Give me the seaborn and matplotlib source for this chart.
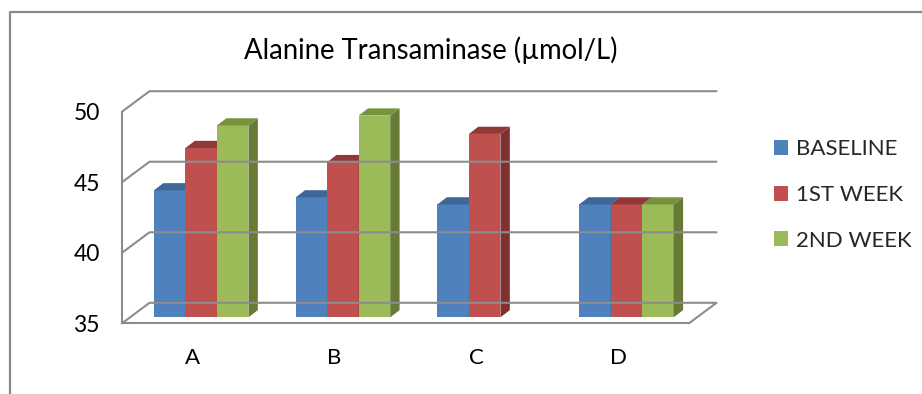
import numpy as np
import pandas as pd
import seaborn as sns
import matplotlib.pyplot as plt
from matplotlib.patches import Polygon, Patch
from matplotlib.lines import Line2D
from matplotlib.transforms import ScaledTranslation, IdentityTransform

# ---- data ----
groups = ["A", "B", "C", "D"]
series = ["BASELINE", "1ST WEEK", "2ND WEEK"]
baseline = [44.0, 43.5, 43.0, 43.0]
week1 = [47.0, 46.0, 48.0, 43.0]
week2 = [48.6, 49.3, np.nan, 43.0]
y_ticks = [35, 40, 45, 50]
title = "Alanine Transaminase (µmol/L)"

# ---- style ----
front_colors = ["#4F81BD", "#C0504D", "#9BBB59"]
side_colors = ["#385E8C", "#7E312F", "#677B37"]
top_colors = ["#3E6697", "#923937", "#77923D"]
grid_color = "#8C8C8C"
FONT = ["Lato", "DejaVu Sans"]

sns.set_style("white")
plt.rcParams["font.family"] = FONT

DPI = 100
W, H = 922, 394
fig = plt.figure(figsize=(W / DPI, H / DPI), dpi=DPI)

# axes = front plane of the 3-D box
x_left, x_right = 122, 689
y_bot, y_top = 323.3, 111.7
ax = fig.add_axes([x_left / W, (H - y_bot) / H,
                   (x_right - x_left) / W, (y_bot - y_top) / H])

df = pd.DataFrame({
    "group": groups * 3,
    "series": np.repeat(series, len(groups)),
    "value": baseline + week1 + week2,
})

sns.barplot(data=df, x="group", y="value", hue="series", hue_order=series,
            palette=front_colors, saturation=1, width=0.667, dodge=True,
            errorbar=None, legend=False, linewidth=0, ax=ax)

ymin, ymax = y_ticks[0], y_ticks[-1]
ax.set_ylim(ymin, ymax)
ax.set_xlim(-0.5, len(groups) - 0.5)

# depth offsets in pixels (display coords, y up)
BOX_D = np.array([27.5, 20.5])     # front plane -> back wall
BAR_OFF = np.array([8.3, 6.0])     # front plane -> bar front faces
BAR_D = np.array([9.4, 7.2])       # bar depth

fig.canvas.draw()
to_disp = ax.transData.transform
ident = IdentityTransform()

# ---- walls and gridlines ----
for v in y_ticks:
    f_l = to_disp((-0.5, v))
    f_r = to_disp((len(groups) - 0.5, v))
    b_l, b_r = f_l + BOX_D, f_r + BOX_D
    pts = [f_l, b_l, b_r]
    if v == ymin:
        pts = [f_l, b_l, b_r, f_r]
    xs, ys = zip(*pts)
    fig.add_artist(Line2D(xs, ys, color=grid_color, lw=1.5,
                          transform=ident, zorder=1))

# ---- 3-D bars ----
shift = ScaledTranslation(BAR_OFF[0] / DPI, BAR_OFF[1] / DPI, fig.dpi_scale_trans)
bars = []
for k, cont in enumerate(ax.containers):
    for p in cont:
        top = p.get_y() + p.get_height()
        if not np.isfinite(top):
            continue
        bars.append((p.get_x(), k, p, top))

bars.sort(key=lambda b: b[0])
for i, (x0, k, p, top) in enumerate(bars):
    w = p.get_width()
    p.set_y(ymin)
    p.set_height(top - ymin)
    p.set_transform(ax.transData + shift)
    p.set_clip_on(False)
    z = 3 + i * 0.1
    p.set_zorder(z)
    bl = to_disp((x0, top)) + BAR_OFF
    br = to_disp((x0 + w, top)) + BAR_OFF
    bb = to_disp((x0 + w, ymin)) + BAR_OFF
    side = Polygon([bb, br, br + BAR_D, bb + BAR_D], closed=True,
                   facecolor=side_colors[k], edgecolor="none",
                   transform=ident, clip_on=False, zorder=z + 0.01)
    lid = Polygon([bl, br, br + BAR_D, bl + BAR_D], closed=True,
                  facecolor=top_colors[k], edgecolor="none",
                  transform=ident, clip_on=False, zorder=z + 0.02)
    ax.add_artist(side)
    ax.add_artist(lid)

# ---- axes styling ----
for s in ["top", "right"]:
    ax.spines[s].set_visible(False)
for s in ["left", "bottom"]:
    ax.spines[s].set_color(grid_color)
    ax.spines[s].set_linewidth(1.5)
    ax.spines[s].set_zorder(1)

ax.set_yticks(y_ticks)
ax.set_yticklabels([str(t) for t in y_ticks])
ax.tick_params(axis="y", length=5, width=1.5, color=grid_color,
               direction="out", pad=11, labelsize=16.5, labelcolor="black")
ax.set_xticks(range(len(groups)))
ax.set_xticklabels(groups)
ax.set_xticks(np.arange(-0.5, len(groups)), minor=True)
ax.tick_params(axis="x", which="major", length=0, pad=18,
               labelsize=16, labelcolor="black")
ax.tick_params(axis="x", which="minor", length=6, width=1.5,
               color=grid_color, direction="out")
ax.set_xlabel("")
ax.set_ylabel("")
ax.grid(False)
ax.patch.set_alpha(0)

# ---- title ----
fig.text(431 / W, 1 - 50 / H, title, ha="center", va="center",
         fontsize=19.8, color="black")

# ---- legend ----
handles = [Patch(facecolor=c, edgecolor="none") for c in front_colors]
fig.legend(handles, series, loc="center left",
           bbox_to_anchor=(765 / W, 1 - 195 / H), frameon=False,
           fontsize=16, handlelength=0.65, handleheight=0.65,
           handletextpad=0.35, labelspacing=1.15, borderaxespad=0)

# ---- outer frame ----
fig.add_artist(Line2D([10, 10, W], [0, H - 12, H - 12], color="#8A8A8A",
                      lw=1.6, transform=ident))

fig.savefig("out.png", dpi=DPI)
